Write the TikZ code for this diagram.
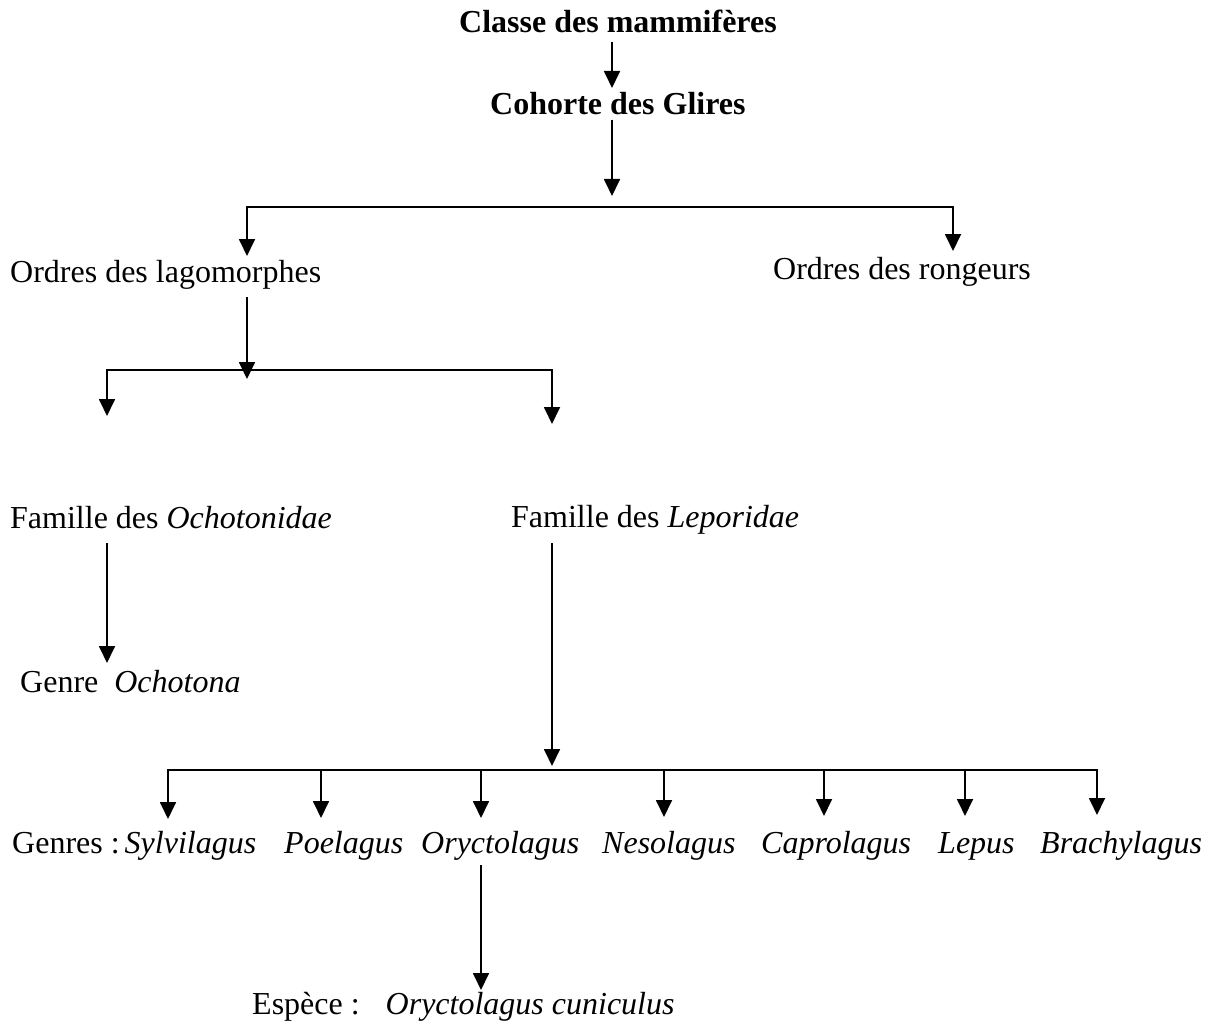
\documentclass[tikz,border=0pt]{standalone}
\usepackage{fontspec}
\setmainfont{Liberation Serif}
\usetikzlibrary{arrows.meta}
\begin{document}
\begin{tikzpicture}[x=1pt,y=-1pt,
  lbl/.style={anchor=base west,inner sep=0pt,font=\fontsize{32}{38}\selectfont},
  blbl/.style={anchor=base west,inner sep=0pt,font=\fontsize{32}{38}\selectfont\bfseries},
  ln/.style={draw,line width=1.8pt},
  arr/.style={ln,-{Triangle[width=16pt,length=17pt]}}]
\useasboundingbox (0,0) rectangle (1211,1022);
% texts
\node[blbl] (classe) at (459,33) {Classe des mammifères};
\node[blbl] (glires) at (490,115) {Cohorte des Glires};
\node[lbl] (lago) at (10,282) {Ordres des lagomorphes};
\node[lbl] (rong) at (773,279) {Ordres des rongeurs};
\node[lbl] (ocho) at (10,528) {Famille des \textit{Ochotonidae}};
\node[lbl] (lepo) at (511,527) {Famille des \textit{Leporidae}};
\node[lbl] (ochg) at (20,692) {Genre\hspace{16pt}\textit{Ochotona}};
\node[lbl] (sylv) at (12,853) {Genres :\hspace{5pt}\textit{Sylvilagus}};
\node[lbl] (poel) at (284,853) {\textit{Poelagus}};
\node[lbl] (oryc) at (421,853) {\textit{Oryctolagus}};
\node[lbl] (neso) at (602,853) {\textit{Nesolagus}};
\node[lbl] (capr) at (761,853) {\textit{Caprolagus}};
\node[lbl] (lepu) at (938,853) {\textit{Lepus}};
\node[lbl] (brac) at (1040,853) {\textit{Brachylagus}};
\node[lbl] (espe) at (252,1014) {Espèce :\hspace{26pt}\textit{Oryctolagus cuniculus}};
% junction / tip coordinates
\coordinate (t1) at (612,88);
\coordinate (t2) at (612,196);
\coordinate (j1) at (612,207);
\coordinate (tl) at (247,256);
\coordinate (tr) at (953,251);
\coordinate (t3) at (247,379);
\coordinate (j2) at (247,370);
\coordinate (to) at (107,416);
\coordinate (tp) at (552,424);
\coordinate (t4) at (107,663);
\coordinate (t5) at (552,766);
\coordinate (j3) at (552,770);
\coordinate (g1) at (168,819);
\coordinate (g2) at (321,818);
\coordinate (g3) at (481,818);
\coordinate (g4) at (664,817);
\coordinate (g5) at (824,816);
\coordinate (g6) at (965,816);
\coordinate (g7) at (1097,815);
\coordinate (t6) at (481,990);
% connectors
\draw[arr] (classe.base -| t1) ++(0,9) -- (t1);
\draw[arr] (glires.base -| t2) ++(0,5) -- (t2);
\draw[arr] (j1) -| (tl);
\draw[arr] (j1) -| (tr);
\draw[arr] (lago.base -| t3) ++(0,15) -- (t3);
\draw[arr] (j2) -| (to);
\draw[arr] (j2) -| (tp);
\draw[arr] (ocho.base -| t4) ++(0,15) -- (t4);
\draw[arr] (lepo.base -| t5) ++(0,16) -- (t5);
\draw[arr] (j3) -| (g1);
\draw[arr] (j3) -| (g2);
\draw[arr] (j3) -| (g3);
\draw[arr] (j3) -| (g4);
\draw[arr] (j3) -| (g5);
\draw[arr] (j3) -| (g6);
\draw[arr] (j3) -| (g7);
\draw[arr] (oryc.base -| t6) ++(0,12) -- (t6);
\end{tikzpicture}
\end{document}
